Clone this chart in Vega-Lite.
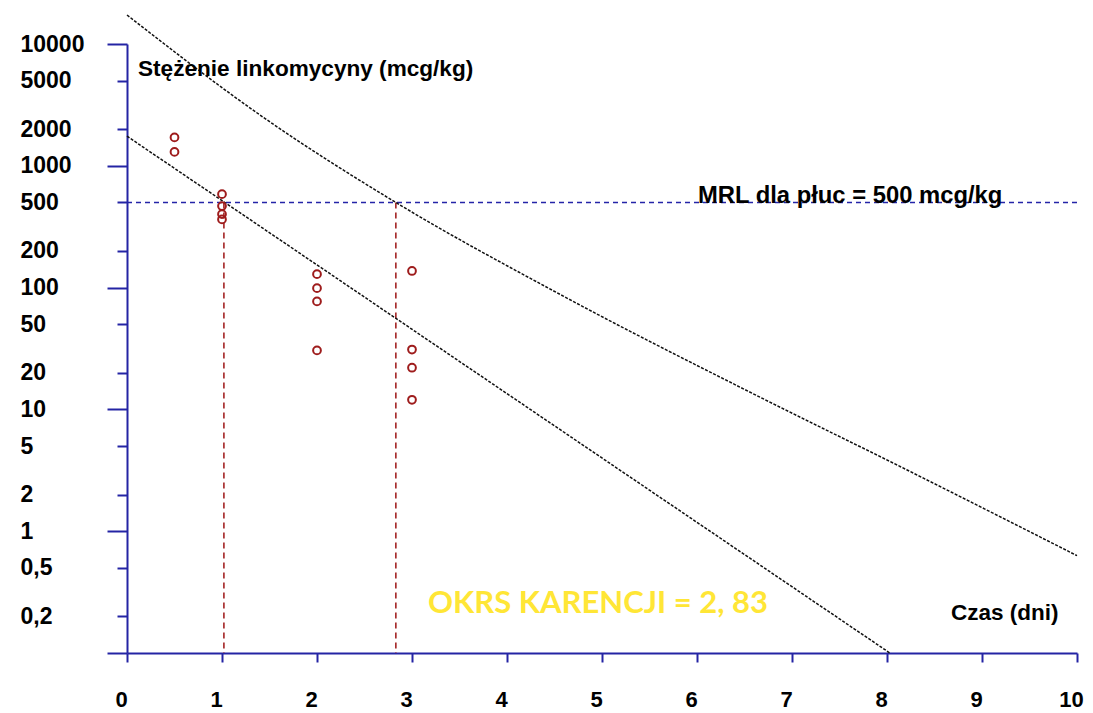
{
  "$schema": "https://vega.github.io/schema/vega-lite/v6.json",
  "width": 950,
  "height": 609,
  "autosize": {"type": "none"},
  "padding": {"left": 127, "top": 44, "right": 16, "bottom": 60},
  "background": "white",
  "config": {
    "view": {"stroke": null},
    "axis": {
      "grid": false,
      "title": null,
      "domainColor": "#2424a4",
      "domainWidth": 2,
      "tickColor": "#2424a4",
      "tickWidth": 2,
      "labelFont": "Liberation Sans",
      "labelFontWeight": "bold",
      "labelFontSize": 23,
      "labelColor": "#000000",
      "labelFlush": false,
      "labelOverlap": false
    }
  },
  "datasets": {
    "measured": [
      {"day": 0.5, "conc": 1710},
      {"day": 0.5, "conc": 1300},
      {"day": 1, "conc": 585},
      {"day": 1, "conc": 467},
      {"day": 1, "conc": 401},
      {"day": 1, "conc": 363},
      {"day": 2, "conc": 129},
      {"day": 2, "conc": 99},
      {"day": 2, "conc": 77},
      {"day": 2, "conc": 30.5},
      {"day": 3, "conc": 137},
      {"day": 3, "conc": 31},
      {"day": 3, "conc": 22},
      {"day": 3, "conc": 12}
    ],
    "upperLimit": [
      {"day": 0, "conc": 17300},
      {"day": 1.432, "conc": 2510},
      {"day": 2.83, "conc": 500},
      {"day": 4.558, "conc": 88},
      {"day": 6.663, "conc": 12.6},
      {"day": 8.137, "conc": 3.4},
      {"day": 10, "conc": 0.63}
    ],
    "regression": [
      {"day": 0, "conc": 1750},
      {"day": 8.03, "conc": 0.1}
    ],
    "mrl": [
      {"day": 0, "day2": 10, "conc": 500}
    ],
    "withdrawal": [
      {"day": 1.02, "conc": 500, "conc2": 0.1},
      {"day": 2.83, "conc": 500, "conc2": 0.1}
    ],
    "notes": [
      {"id": "yTitle", "day": 0.116, "conc": 5460, "note": "Stężenie linkomycyny (mcg/kg)"},
      {"id": "mrl", "day": 6.01, "conc": 495, "note": "MRL dla płuc = 500 mcg/kg"},
      {"id": "xTitle", "day": 8.674, "conc": 0.185, "note": "Czas (dni)"}
    ],
    "result": [
      {"day": 3.168, "conc": 0.215, "note": "OKRS KARENCJI = 2, 83"}
    ]
  },
  "encoding": {
    "x": {
      "field": "day",
      "type": "quantitative",
      "scale": {"domain": [0, 10], "nice": false, "zero": false},
      "axis": {
        "values": [0, 1, 2, 3, 4, 5, 6, 7, 8, 9, 10],
        "tickSize": 9,
        "labelPadding": 27,
        "labelOffset": -6,
        "labelFontSize": 22,
        "labelBaseline": "top",
        "labelAlign": "center"
      }
    },
    "y": {
      "field": "conc",
      "type": "quantitative",
      "scale": {"type": "log", "domain": [0.1, 10000], "nice": false},
      "axis": {
        "values": [0.1, 0.2, 0.5, 1, 2, 5, 10, 20, 50, 100, 200, 500, 1000, 2000, 5000, 10000],
        "labelExpr": "datum.value < 0.15 ? '' : replace(toString(datum.value), '.', ',')",
        "tickSize": {
          "condition": {"test": "indexof([0.1, 1, 10, 100, 1000, 10000], datum.value) >= 0", "value": 20},
          "value": 10
        },
        "labelPadding": {
          "condition": {"test": "indexof([0.1, 1, 10, 100, 1000, 10000], datum.value) >= 0", "value": 87},
          "value": 97
        },
        "labelAlign": "left",
        "labelBaseline": "middle"
      }
    }
  },
  "layer": [
    {
      "data": {"name": "mrl"},
      "mark": {"type": "rule", "color": "#2424a8", "strokeWidth": 1.6, "strokeDash": [5, 4]},
      "encoding": {
        "x2": {"field": "day2"}
      }
    },
    {
      "data": {"name": "withdrawal"},
      "mark": {"type": "rule", "color": "#a42424", "strokeWidth": 1.6, "strokeDash": [6, 4]},
      "encoding": {
        "y2": {"field": "conc2"}
      }
    },
    {
      "data": {"name": "upperLimit"},
      "mark": {"type": "line", "color": "#111111", "strokeWidth": 1.5, "strokeDash": [3, 1.5], "interpolate": "monotone"},
      "encoding": {}
    },
    {
      "data": {"name": "regression"},
      "mark": {"type": "line", "color": "#111111", "strokeWidth": 1.5, "strokeDash": [3, 1.5]},
      "encoding": {}
    },
    {
      "data": {"name": "measured"},
      "mark": {"type": "point", "shape": "circle", "filled": false, "size": 60, "color": "#9e1c1c", "strokeWidth": 2, "opacity": 1}
    },
    {
      "data": {"name": "notes"},
      "transform": [{"filter": "datum.id === 'yTitle'"}],
      "mark": {"type": "text", "font": "Liberation Sans", "fontWeight": "bold", "fontSize": 22.6, "color": "#000000", "align": "left", "baseline": "alphabetic"},
      "encoding": {
        "text": {"field": "note"}
      }
    },
    {
      "data": {"name": "notes"},
      "transform": [{"filter": "datum.id === 'mrl'"}],
      "mark": {"type": "text", "font": "Liberation Sans", "fontWeight": "bold", "fontSize": 23.8, "color": "#000000", "align": "left", "baseline": "alphabetic"},
      "encoding": {
        "text": {"field": "note"}
      }
    },
    {
      "data": {"name": "notes"},
      "transform": [{"filter": "datum.id === 'xTitle'"}],
      "mark": {"type": "text", "font": "Liberation Sans", "fontWeight": "bold", "fontSize": 22.5, "color": "#000000", "align": "left", "baseline": "alphabetic"},
      "encoding": {
        "text": {"field": "note"}
      }
    },
    {
      "data": {"name": "result"},
      "mark": {"type": "text", "font": "Lato", "fontWeight": "bold", "fontSize": 31, "color": "#ffe636", "align": "left", "baseline": "alphabetic"},
      "encoding": {
        "text": {"field": "note"}
      }
    }
  ]
}
